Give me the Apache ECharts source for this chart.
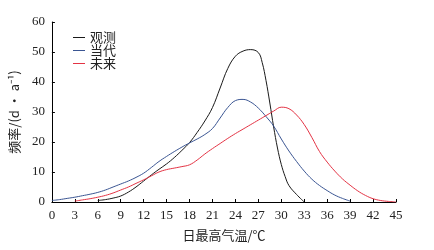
<!DOCTYPE html>
<html>
<head>
<meta charset="utf-8">
<script src="https://cdn.jsdelivr.net/npm/echarts@6/dist/echarts.min.js"></script>
<style>
html, body { margin: 0; padding: 0; background: #fff; }
#chart { width: 434px; height: 250px; }
</style>
</head>
<body>
<div id="chart"></div>
<script>
// 日最高气温 (°C) and 频率 (d·a^-1)
var seriesNames = ['观测', '当代', '未来'];

var obsT = [6, 7, 8, 9, 10, 11, 12, 13, 14, 15, 16, 17, 18, 19, 20, 21, 22, 23, 24, 25, 26, 27, 27.5, 28, 28.5, 29, 29.5, 30, 30.5, 31, 32, 33];
var obsV = [0.5, 0.8, 1.3, 2, 3.3, 5, 7, 9, 10.9, 12.7, 14.8, 17.2, 19.8, 23.2, 27, 31.5, 38, 44.5, 48.6, 50.3, 50.8, 49.8, 46.5, 40.5, 33, 25, 18, 12.5, 8.5, 5.5, 2.5, 0];

var curT = [0, 1, 2, 3, 4, 5, 6, 7, 8, 9, 10, 11, 12, 13, 14, 15, 16, 17, 18, 19, 20, 21, 22, 23, 24, 25, 26, 27, 28, 29, 30, 31, 32, 33, 34, 35, 36, 37, 38, 39];
var curV = [0.5, 0.8, 1.2, 1.6, 2.1, 2.6, 3.2, 4, 5, 6, 7, 8.2, 9.6, 11.5, 13.5, 15.2, 16.8, 18.3, 19.7, 21, 22.5, 24.5, 28, 31.5, 33.8, 34.2, 33.3, 31.3, 28.5, 25.3, 21, 17, 13.5, 10.3, 7.6, 5.5, 3.8, 2.3, 1.2, 0.3];

var futT = [3, 4, 5, 6, 7, 8, 9, 10, 11, 12, 13, 14, 15, 16, 17, 18, 19, 20, 21, 22, 23, 24, 25, 26, 27, 28, 29, 30, 31, 32, 33, 34, 35, 36, 37, 38, 39, 40, 41, 42, 43, 44, 45];
var futV = [0.3, 0.7, 1.1, 1.6, 2.2, 3, 4, 5, 6.2, 7.4, 8.7, 10, 10.8, 11.3, 11.8, 12.4, 14, 16, 17.8, 19.5, 21.2, 22.8, 24.3, 25.8, 27.3, 28.8, 30.3, 31.6, 31.1, 29, 25.8, 21.5, 16.8, 13.3, 10.3, 7.7, 5.6, 3.7, 2.2, 1.1, 0.5, 0.2, 0];

var colors = ['#1a1a1a', '#3a5592', '#e33344'];

function pairs(t, v) {
    return t.map(function (x, i) { return [x, v[i]]; });
}

var chart = echarts.init(document.getElementById('chart'));
var axisFont = { fontFamily: 'Liberation Serif', fontSize: 13, color: '#222', margin: 7 };

var option = {
    animation: false,
    color: colors,
    grid: { left: 46, right: 38, top: 22, bottom: 48, containLabel: false },
    legend: {
        data: seriesNames,
        orient: 'vertical',
        left: 73,
        top: 31,
        padding: 0,
        icon: 'rect',
        itemWidth: 12,
        itemHeight: 1,
        itemGap: 0,
        textStyle: { fontFamily: 'Noto Sans CJK SC', fontSize: 13, lineHeight: 12.5, color: '#222' }
    },
    xAxis: {
        type: 'value',
        min: 0, max: 45, interval: 3,
        name: '日最高气温/℃',
        nameLocation: 'middle',
        nameGap: 27,
        nameTextStyle: { fontFamily: 'Noto Sans CJK SC', fontSize: 13, color: '#222' },
        axisLine: { lineStyle: { color: '#000', width: 1 } },
        axisTick: { inside: true, length: 3, lineStyle: { color: '#000' } },
        axisLabel: axisFont,
        splitLine: { show: false }
    },
    yAxis: {
        type: 'value',
        min: 0, max: 60, interval: 10,
        name: '频率/(d · a⁻¹)',
        nameLocation: 'middle',
        nameGap: 19,
        nameTextStyle: { fontFamily: 'Noto Sans CJK SC', fontSize: 13, color: '#222' },
        axisLine: { show: true, lineStyle: { color: '#000', width: 1 } },
        axisTick: { show: true, inside: true, length: 3, lineStyle: { color: '#000' } },
        axisLabel: axisFont,
        splitLine: { show: false }
    },
    series: [
        { name: seriesNames[0], type: 'line', data: pairs(obsT, obsV), smooth: 0.4, symbol: 'none', lineStyle: { width: 1 } },
        { name: seriesNames[1], type: 'line', data: pairs(curT, curV), smooth: 0.4, symbol: 'none', lineStyle: { width: 1 } },
        { name: seriesNames[2], type: 'line', data: pairs(futT, futV), smooth: 0.4, symbol: 'none', lineStyle: { width: 1 } }
    ]
};
chart.setOption(option);
</script>
</body>
</html>
